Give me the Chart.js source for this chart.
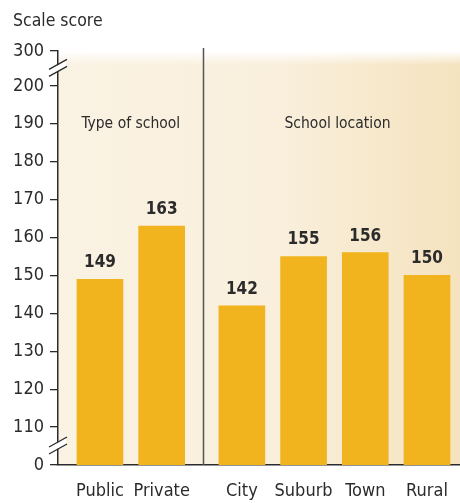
<!DOCTYPE html>
<html>
<head>
<meta charset="utf-8">
<script src="https://cdn.jsdelivr.net/npm/chart.js@4"></script>
<style>
  body { margin: 0; background: #fff; }
  #wrap { width: 460px; height: 503px; position: relative; }
</style>
</head>
<body>
<div id="wrap"><canvas id="chart"></canvas></div>
<script>
const categories = ['Public', 'Private', 'City', 'Suburb', 'Town', 'Rural'];
const scores = [149, 163, 142, 155, 156, 150];
const groups = ['Type of school', 'School location'];
const tickLabels = [0, 110, 120, 130, 140, 150, 160, 170, 180, 190, 200, 300];

// positions along the x axis (gap between the two groups)
const xPos = [0, 1, 2.3, 3.3, 4.3, 5.3];
const dividerX = 1.67;

// broken axis: 0..110 squeezed, 200..300 squeezed
const toAxis = (v) => {
  if (v <= 110) return 100 + v / 110 * 10;
  if (v <= 200) return v;
  return 200 + (v - 200) / 100 * 9.2;
};

const font = '"DejaVu Sans Condensed", "DejaVu Sans", sans-serif';
const ink = '#2b2b2b';

const extras = {
  id: 'extras',
  beforeDraw(chart) {
    const { ctx, chartArea: a } = chart;
    ctx.save();
    const g = ctx.createLinearGradient(a.left, 0, a.right, 0);
    g.addColorStop(0, '#faf2e3');
    g.addColorStop(0.55, '#f9efdc');
    g.addColorStop(1, '#f5e3bf');
    ctx.fillStyle = g;
    ctx.fillRect(a.left, a.top, a.right - a.left, a.bottom - a.top);
    const fade = ctx.createLinearGradient(0, a.top, 0, a.top + 14);
    fade.addColorStop(0, 'rgba(255,255,255,1)');
    fade.addColorStop(1, 'rgba(255,255,255,0)');
    ctx.fillStyle = fade;
    ctx.fillRect(a.left, a.top - 4, a.right - a.left, 18);
    ctx.restore();
  },
  afterDraw(chart) {
    const { ctx, chartArea: a, scales } = chart;
    const x = scales.x, y = scales.y;
    ctx.save();
    // divider
    const dx = Math.round(x.getPixelForValue(dividerX)) + 0.5;
    ctx.strokeStyle = '#555';
    ctx.lineWidth = 1.5;
    ctx.beginPath();
    ctx.moveTo(dx, a.top - 3);
    ctx.lineTo(dx, a.bottom);
    ctx.stroke();

    // axis breaks
    const breaks = [(y.getPixelForValue(toAxis(300)) + y.getPixelForValue(toAxis(200))) / 2,
                    (y.getPixelForValue(toAxis(110)) + y.getPixelForValue(toAxis(0))) / 2];
    breaks.forEach((by) => {
      ctx.fillStyle = '#fff';
      ctx.beginPath();
      ctx.moveTo(a.left - 8, by + 1);
      ctx.lineTo(a.left + 8, by - 8);
      ctx.lineTo(a.left + 8, by - 2);
      ctx.lineTo(a.left - 8, by + 7);
      ctx.closePath();
      ctx.fill();
      ctx.strokeStyle = ink;
      ctx.lineWidth = 1.3;
      ctx.beginPath();
      ctx.moveTo(a.left - 9, by + 1);
      ctx.lineTo(a.left + 9, by - 9);
      ctx.moveTo(a.left - 9, by + 8);
      ctx.lineTo(a.left + 9, by - 2);
      ctx.stroke();
    });

    // value labels
    ctx.fillStyle = ink;
    ctx.font = 'bold 17px ' + font;
    ctx.textAlign = 'center';
    ctx.textBaseline = 'alphabetic';
    chart.getDatasetMeta(0).data.forEach((bar, i) => {
      ctx.fillText(String(scores[i]), bar.x, bar.y - 12);
    });

    // group titles
    ctx.font = '15.5px ' + font;
    ctx.textBaseline = 'middle';
    const gy = y.getPixelForValue(190);
    ctx.fillText(groups[0], x.getPixelForValue(0.5), gy);
    ctx.fillText(groups[1], x.getPixelForValue(3.85), gy);

    // axis title
    ctx.textAlign = 'left';
    ctx.font = '17.5px ' + font;
    ctx.fillText('Scale score', 13, 21);
    ctx.restore();
  }
};

new Chart(document.getElementById('chart'), {
  type: 'bar',
  data: {
    datasets: [{
      data: categories.map((c, i) => ({ x: xPos[i], y: toAxis(scores[i]) })),
      backgroundColor: '#f1b41f',
      borderWidth: 0,
      barThickness: 46
    }]
  },
  options: {
    responsive: true,
    maintainAspectRatio: false,
    animation: false,
    layout: { padding: { top: 51, right: 0, left: 0, bottom: 0 } },
    plugins: { legend: { display: false }, tooltip: { enabled: false } },
    scales: {
      x: {
        type: 'linear',
        offset: false,
        min: -0.68,
        max: 5.835,
        afterBuildTicks: (s) => { s.ticks = xPos.map((v) => ({ value: v })); },
        afterFit: (s) => { s.height = 38; s.paddingRight = 0; s.paddingLeft = 0; },
        ticks: {
          callback: (v) => categories[xPos.indexOf(v)] ?? '',
          color: ink,
          font: { family: font, size: 18 },
          padding: 16,
          maxRotation: 0,
          autoSkip: false
        },
        grid: { display: false, drawTicks: false, offset: false },
        border: { display: true, color: ink, width: 1.5 }
      },
      y: {
        min: 100,
        max: toAxis(300),
        afterBuildTicks: (s) => { s.ticks = tickLabels.map((v) => ({ value: toAxis(v) })); },
        afterFit: (s) => { s.width = 58; },
        ticks: {
          callback: (v, i) => String(tickLabels[i]),
          color: ink,
          font: { family: font, size: 18 },
          padding: 6,
          autoSkip: false
        },
        grid: { drawOnChartArea: false, drawTicks: true, tickLength: 8, color: ink, lineWidth: 1.3 },
        border: { display: true, color: ink, width: 1.5 }
      }
    }
  },
  plugins: [extras]
});
</script>
</body>
</html>
